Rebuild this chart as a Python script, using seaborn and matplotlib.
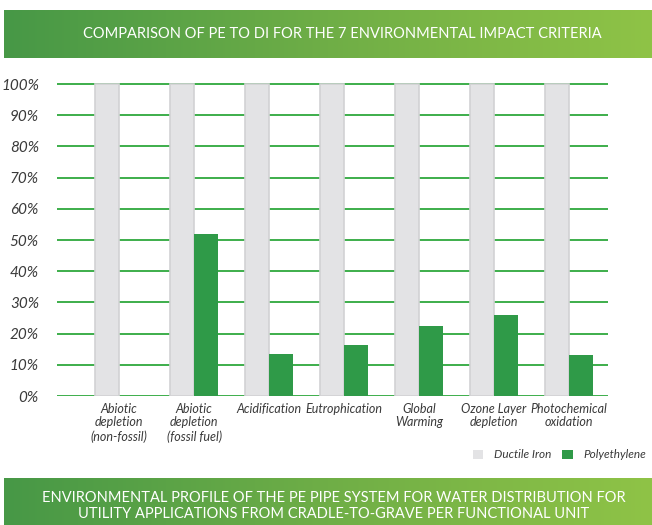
import numpy as np
import pandas as pd
import matplotlib
matplotlib.use("Agg")
import matplotlib.pyplot as plt
from matplotlib.colors import LinearSegmentedColormap
import seaborn as sns

# Chart data
# ----------
criteria = [
    "Abiotic\ndepletion\n(non-fossil)",
    "Abiotic\ndepletion\n(fossil fuel)",
    "Acidification",
    "Eutrophication",
    "Global\nWarming",
    "Ozone Layer\ndepletion",
    "Photochemical\noxidation",
]
ductile_iron = [100, 100, 100, 100, 100, 100, 100]
polyethylene = [0, 52, 13.5, 16.5, 22.5, 26, 13]
materials = ["Ductile Iron", "Polyethylene"]
y_ticks = [0, 10, 20, 30, 40, 50, 60, 70, 80, 90, 100]

title_text = "COMPARISON OF PE TO DI FOR THE 7 ENVIRONMENTAL IMPACT CRITERIA"
footer_text = ("ENVIRONMENTAL PROFILE OF THE PE PIPE SYSTEM FOR WATER DISTRIBUTION FOR\n"
               "UTILITY APPLICATIONS FROM CRADLE-TO-GRAVE PER FUNCTIONAL UNIT")

df = pd.DataFrame({
    "criterion": criteria * 2,
    "material": [materials[0]] * len(criteria) + [materials[1]] * len(criteria),
    "value": ductile_iron + polyethylene,
})

sns.set_style("white")
plt.rcParams["font.family"] = ["Lato", "DejaVu Sans"]

W, H = 652, 525
fig = plt.figure(figsize=(W / 100, H / 100), dpi=100)

green_grid = "#3dae4b"
grey_bar = "#e3e3e5"
grey_edge = "#d2d2d4"
green_bar = "#2f9a48"
text_col = "#3a3a3a"

banner_cmap = LinearSegmentedColormap.from_list("banner", ["#479847", "#6fae46", "#8fc346"])
grad = np.linspace(0, 1, 256).reshape(1, -1)


def banner(y_top, y_bot, text, tx, ty, fs):
    # green gradient strip with white caption on top
    bax = fig.add_axes([4 / W, 1 - y_bot / H, (W - 4) / W, (y_bot - y_top) / H])
    bax.imshow(grad, aspect="auto", cmap=banner_cmap, extent=[0, 1, 0, 1])
    bax.set_axis_off()
    bax.text((tx - 4) / (W - 4), (y_bot - ty) / (y_bot - y_top), text,
             transform=bax.transAxes, ha="center", va="center", color="white",
             fontsize=fs, linespacing=1.2, zorder=5)


banner(10, 58, title_text, 342, 34, 10.5)
banner(478, 525, footer_text, 334, 506, 10.5)

# Main bar chart
ax = fig.add_axes([57 / W, 1 - 396 / H, (608 - 57) / W, (396 - 84) / H * 1.01])
sns.barplot(data=df, x="criterion", y="value", hue="material",
            palette=[grey_bar, green_bar], width=0.64, saturation=1,
            edgecolor="none", ax=ax, legend=True, zorder=3)

# soft darker edge on the ductile iron columns
for bar in ax.containers[0]:
    bar.set_edgecolor(grey_edge)
    bar.set_linewidth(1.2)

ax.set_ylim(0, 101)
ax.set_xlim(-0.83, 6.52)
ax.set_yticks(y_ticks)
ax.set_yticklabels([f"{t}%" for t in y_ticks], fontsize=11, style="italic", color=text_col)
ax.set_xticks(range(len(criteria)))
ax.set_xticklabels(criteria, fontsize=9, style="italic", color=text_col, linespacing=1.15)
ax.tick_params(axis="y", length=0, pad=13)
ax.tick_params(axis="x", length=0, pad=5)
ax.set_xlabel("")
ax.set_ylabel("")
for t in y_ticks:
    ax.axhline(t, color=green_grid, lw=1.4, zorder=1)
for side in ["top", "right", "left", "bottom"]:
    ax.spines[side].set_visible(False)

handles, labels = ax.get_legend_handles_labels()
ax.get_legend().remove()
fig.legend(handles, labels, loc="center right", bbox_to_anchor=(652 / W, 1 - 455 / H),
           ncol=2, frameon=False, prop={"style": "italic", "size": 8.5},
           handlelength=0.9, handleheight=0.9, columnspacing=0.9, handletextpad=0.9,
           labelcolor=text_col, borderaxespad=0.1)

fig.savefig("out.png", dpi=100)
